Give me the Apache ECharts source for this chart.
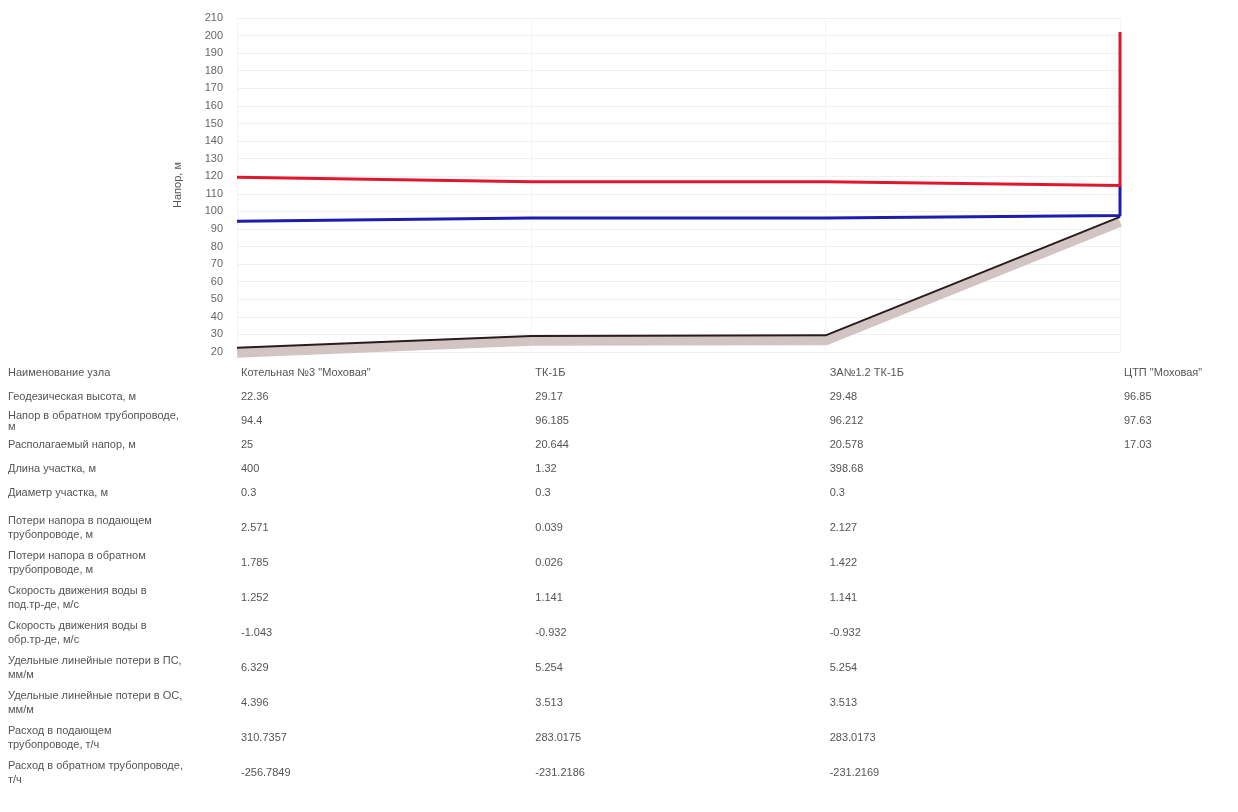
<!DOCTYPE html>
<html><head><meta charset="utf-8">
<script src="https://cdn.jsdelivr.net/npm/echarts@6.0.0/dist/echarts.min.js"></script>
<style>html,body{margin:0;padding:0;background:#fff}#c{width:1238px;height:812px}</style>
</head><body><div id="c"></div>
<script>
// ---- data ----
const nodes = ['Котельная №3 "Моховая"', 'ТК-1Б', 'ЗА№1.2 ТК-1Б', 'ЦТП "Моховая"'];
const supplyHead = [119.4, 116.829, 116.79, 114.66];
const returnHead = [94.4, 96.185, 96.212, 97.63];
const groundHeight = [22.36, 29.17, 29.48, 96.85];
const staticHeadTop = 202;
const yMin = 20, yMax = 210, yStep = 10;

const rowLabels = [
  'Наименование узла',
  'Геодезическая высота, м',
  'Напор в обратном трубопроводе,\nм',
  'Располагаемый напор, м',
  'Длина участка, м',
  'Диаметр участка, м',
  'Потери напора в подающем\nтрубопроводе, м',
  'Потери напора в обратном\nтрубопроводе, м',
  'Скорость движения воды в\nпод.тр-де, м/с',
  'Скорость движения воды в\nобр.тр-де, м/с',
  'Удельные линейные потери в ПС,\nмм/м',
  'Удельные линейные потери в ОС,\nмм/м',
  'Расход в подающем\nтрубопроводе, т/ч',
  'Расход в обратном трубопроводе,\nт/ч'
];
const geoRow = ['22.36', '29.17', '29.48', '96.85'];
const returnRow = ['94.4', '96.185', '96.212', '97.63'];
const availRow = ['25', '20.644', '20.578', '17.03'];
const lengthRow = ['400', '1.32', '398.68', ''];
const diamRow = ['0.3', '0.3', '0.3', ''];
const lossSupplyRow = ['2.571', '0.039', '2.127', ''];
const lossReturnRow = ['1.785', '0.026', '1.422', ''];
const speedSupplyRow = ['1.252', '1.141', '1.141', ''];
const speedReturnRow = ['-1.043', '-0.932', '-0.932', ''];
const specLossSupplyRow = ['6.329', '5.254', '5.254', ''];
const specLossReturnRow = ['4.396', '3.513', '3.513', ''];
const flowSupplyRow = ['310.7357', '283.0175', '283.0173', ''];
const flowReturnRow = ['-256.7849', '-231.2186', '-231.2169', ''];

const tableRows = [nodes, geoRow, returnRow, availRow, lengthRow, diamRow, lossSupplyRow,
  lossReturnRow, speedSupplyRow, speedReturnRow, specLossSupplyRow, specLossReturnRow,
  flowSupplyRow, flowReturnRow];

// ---- chart ----
const chart = echarts.init(document.getElementById('c'), null, {renderer: 'canvas'});
const last = nodes.length - 1;
const supplyData = supplyHead.map((v, i) => [i, v]).concat([[last, staticHeadTop]]);
const returnData = returnHead.map((v, i) => [i, v]).concat([[last, supplyHead[last]]]);
const groundData = groundHeight.map((v, i) => [i, v]);
const bandShift = 2.8;

chart.setOption({
  animation: false,
  grid: {left: 237, right: 118, top: 18, bottom: 460},
  xAxis: {
    type: 'category', data: nodes, boundaryGap: false,
    axisLine: {show: false}, axisTick: {show: false}, axisLabel: {show: false},
    splitLine: {show: true, lineStyle: {color: '#f4f4f4'}}
  },
  yAxis: [{
    type: 'value', min: yMin, max: yMax, interval: yStep,
    name: 'Напор, м', nameLocation: 'middle', nameGap: 54,
    nameTextStyle: {color: '#555', fontSize: 11, fontFamily: 'Liberation Sans'},
    axisLabel: {color: '#666', fontSize: 11, fontFamily: 'Liberation Sans', margin: 14},
    axisLine: {show: false}, axisTick: {show: false},
    splitLine: {lineStyle: {color: '#f0f0f0'}}
  }, {
    type: 'value', min: yMin + bandShift, max: yMax + bandShift, show: false,
    splitLine: {show: false}
  }],
  series: [
    {type: 'line', yAxisIndex: 1, data: groundData, symbol: 'none', clip: false,
      lineStyle: {color: '#d3c4c4', width: 10}, z: 1, silent: true},
    {type: 'line', data: groundData, symbol: 'none', clip: false,
      lineStyle: {color: '#2a1c1c', width: 2}, z: 3},
    {type: 'line', data: returnData, symbol: 'none',
      lineStyle: {color: '#1c1cb0', width: 3}, z: 4},
    {type: 'line', data: supplyData, symbol: 'none', clip: false,
      lineStyle: {color: '#e0182e', width: 3}, z: 5}
  ]
});

// ---- table under the chart ----
const xs = nodes.map((_, i) => chart.convertToPixel({xAxisIndex: 0}, i));
const font = '11px "Liberation Sans", Arial, sans-serif';
const els = [];
let y = 373;
rowLabels.forEach((lab, r) => {
  if (r > 0) y += (r <= 5 ? 24 : 35);
  const tight = r <= 5;
  els.push({type: 'text', x: 8, y: y, style: {text: lab, font: font, fill: '#555',
    verticalAlign: 'middle', align: 'left', lineHeight: tight ? 11 : 14}});
  tableRows[r].forEach((v, c) => {
    if (v === '') return;
    els.push({type: 'text', x: xs[c] + 4, y: y, style: {text: v, font: font,
      fill: '#555', verticalAlign: 'middle', align: 'left'}});
  });
});
chart.setOption({graphic: els});
</script>
</body></html>
